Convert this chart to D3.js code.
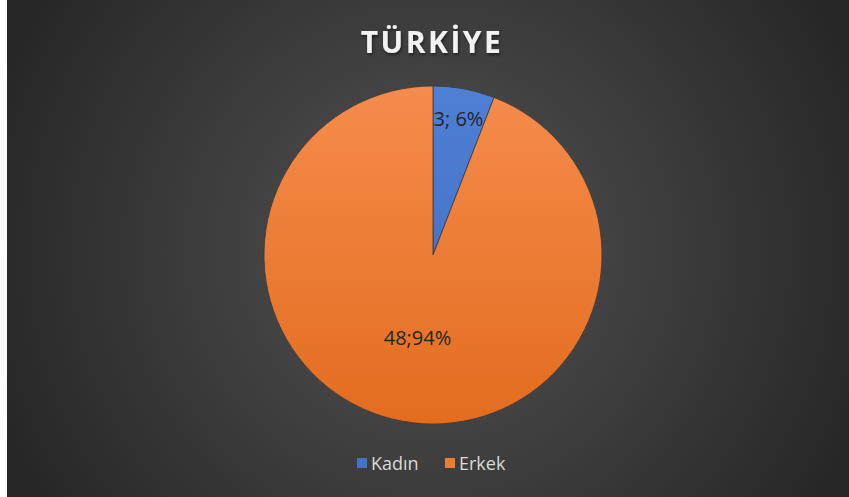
<!DOCTYPE html>
<html>
<head>
<meta charset="utf-8">
<script src="https://cdn.jsdelivr.net/npm/d3@7"></script>
<style>
  body { margin: 0; background: #fff; }
</style>
</head>
<body>
<div id="graph"></div>
<script>
const categories = ["Kadın", "Erkek"]
const values = [3, 48]
const percents = ["6%", "94%"]
const title = "TÜRKİYE"

const width = 849
const height = 497
const colors = ["#4472C4", "#ED7D31"]

const svg = d3.select("#graph").append("svg")
    .attr("width", width)
    .attr("height", height)
    .style("display", "block")

const defs = svg.append("defs")

const bg = defs.append("radialGradient")
    .attr("id", "bg")
    .attr("gradientUnits", "userSpaceOnUse")
    .attr("cx", 430).attr("cy", 250).attr("r", 470)
bg.append("stop").attr("offset", "0%").attr("stop-color", "#535353")
bg.append("stop").attr("offset", "100%").attr("stop-color", "#262626")

const shades = [["#4F80D6", "#3E68B8"], ["#F58C4D", "#E36C1E"]]
shades.forEach((s, i) => {
    const g = defs.append("linearGradient")
        .attr("id", "slice" + i)
        .attr("gradientUnits", "userSpaceOnUse")
        .attr("x1", 0).attr("y1", -170).attr("x2", 0).attr("y2", 170)
    g.append("stop").attr("offset", "0%").attr("stop-color", s[0])
    g.append("stop").attr("offset", "100%").attr("stop-color", s[1])
})

const shadow = defs.append("filter").attr("id", "tshadow")
shadow.append("feDropShadow")
    .attr("dx", 1).attr("dy", 2).attr("stdDeviation", 1.5)
    .attr("flood-color", "#000").attr("flood-opacity", 0.5)

// Background (white strip on the left, as in the picture)
svg.append("rect")
    .attr("x", 7).attr("y", 0)
    .attr("width", width - 7).attr("height", height)
    .attr("fill", "url(#bg)")

// Title
svg.append("text")
    .attr("x", 432)
    .attr("y", 53)
    .attr("text-anchor", "middle")
    .attr("font-family", "'Open Sans', sans-serif")
    .attr("font-size", 30)
    .attr("font-weight", "bold")
    .attr("letter-spacing", 2.5)
    .attr("fill", "#F2F2F2")
    .attr("filter", "url(#tshadow)")
    .text(title)

// Pie
const cx = 433, cy = 255, r = 169
const pie = d3.pie().sort(null).value(d => d)
const arcs = pie(values)
const arc = d3.arc().innerRadius(0).outerRadius(r)
const labelRadius = [r * 0.82, r * 0.5]

const g = svg.append("g").attr("transform", `translate(${cx},${cy})`)

g.selectAll("path")
    .data(arcs)
    .join("path")
    .attr("d", arc)
    .attr("fill", (d, i) => `url(#slice${i})`)
    .attr("stroke", "#3a3a3a")
    .attr("stroke-width", 0.8)

g.selectAll("text")
    .data(arcs)
    .join("text")
    .attr("transform", (d, i) => {
        const a = d3.arc().innerRadius(labelRadius[i]).outerRadius(labelRadius[i])
        const [x, y] = a.centroid(d)
        return `translate(${x},${y})`
    })
    .attr("text-anchor", "middle")
    .attr("dy", "0.35em")
    .attr("font-family", "'Open Sans', sans-serif")
    .attr("font-size", 20)
    .attr("fill", "#262626")
    .text((d, i) => values[i] + ";" + (i === 0 ? " " : "") + percents[i])

// Legend
const legend = svg.append("g")
    .attr("font-family", "'Open Sans', sans-serif")
    .attr("font-size", 18)
const legendX = [357, 445]
categories.forEach((c, i) => {
    legend.append("rect")
        .attr("x", legendX[i]).attr("y", 458)
        .attr("width", 10).attr("height", 10)
        .attr("fill", colors[i])
    legend.append("text")
        .attr("x", legendX[i] + 14).attr("y", 470)
        .attr("fill", "#D9D9D9")
        .text(c)
})
</script>
</body>
</html>
